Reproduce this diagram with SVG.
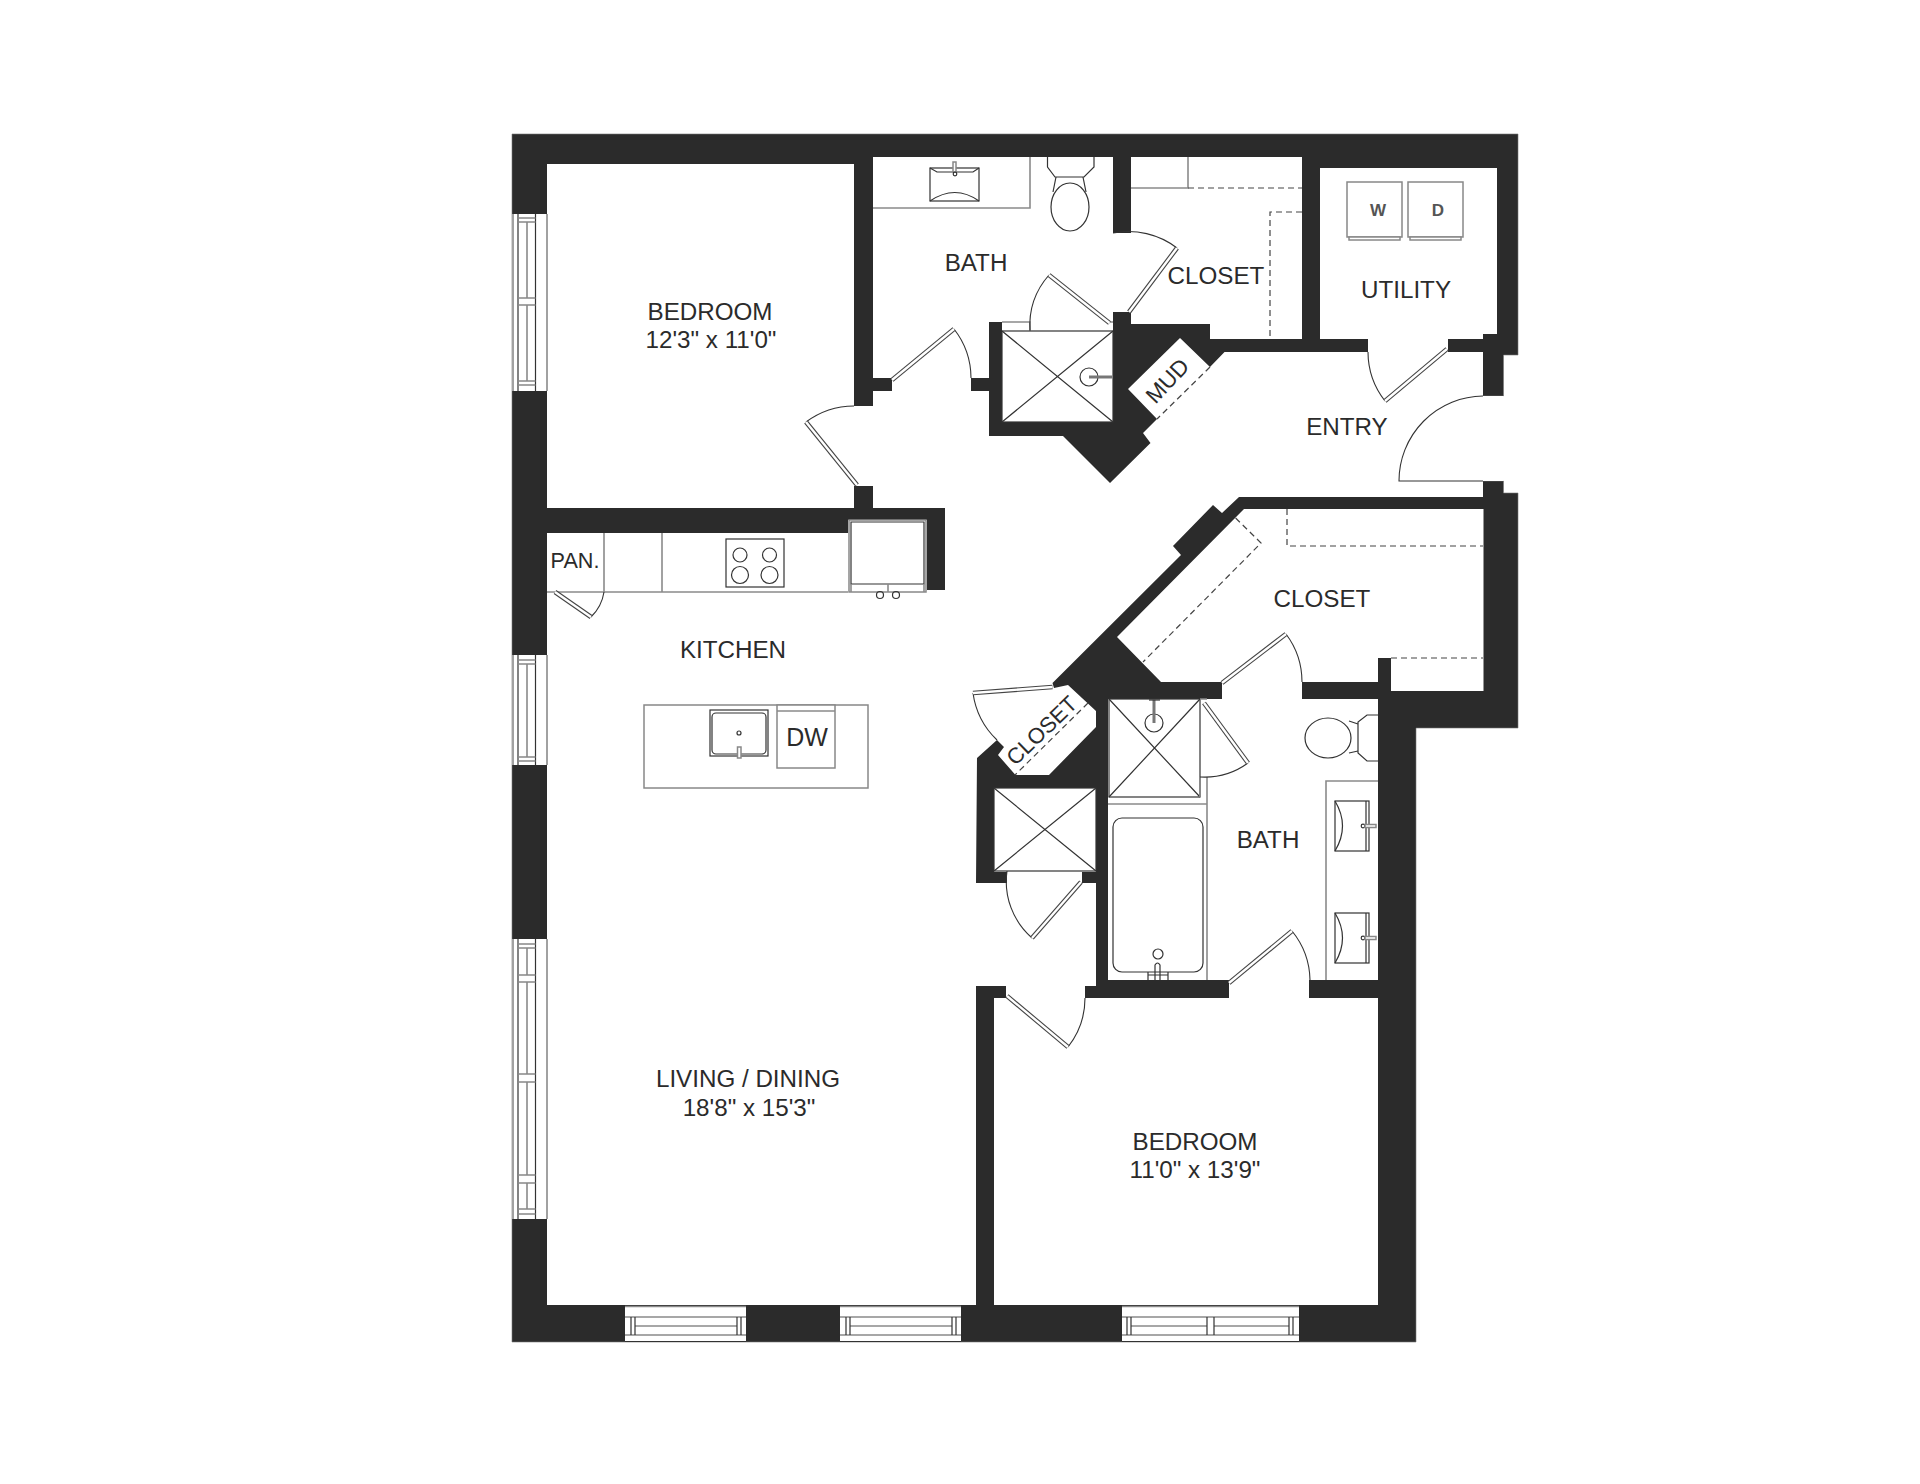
<svg xmlns="http://www.w3.org/2000/svg" width="1920" height="1484" viewBox="0 0 1920 1484">
<style>
.w{fill:#2b2b2b;stroke:#777;stroke-width:.6}
.r{fill:#fff;stroke:none}
.e{fill:none;stroke:#8a8a8a;stroke-width:1.6}
.f{fill:none;stroke:#333;stroke-width:1.2}
.g{fill:none;stroke:#888;stroke-width:1.6}
.fw{fill:#fff;stroke:#333;stroke-width:1.2}
.gw{fill:#fff;stroke:#888;stroke-width:1.5}
.d{fill:none;stroke:#444;stroke-width:1.2;stroke-dasharray:6 4}
.a{fill:none;stroke:#333;stroke-width:1.1}
.l1{fill:none;stroke:#444;stroke-width:4.6}
.l2{fill:none;stroke:#fff;stroke-width:2.4}
text{font-family:"Liberation Sans",Arial,sans-serif;font-size:24.2px;fill:#2b2b2b;text-anchor:middle}
</style>
<rect width="1920" height="1484" fill="#fff"/>
<g id="walls">
<path class="w" d="M512 134H1518V355H1503.5V396H1483V481H1503.5V493H1518V728H1416V1342H512Z"/>
</g>
<g id="rooms">
<path class="r" d="M547 164H854V406H873V391H892V378H971V391H989V436H1063L1110 483L1150.5 443L1143 433L1157 419L1128 389L1180 338L1210 367L1224.5 352H1368V339H1448V352H1483V396H1503.5V481H1483V497H1239L1222 513L1213 505L1173 546L1181 555L1052.5 683L1054 688L1068 685L1096 711V727L1049 775H1015.5L998 755L1004 747L997 740L977 758L976 883H1007V871H1082V883H1096V986H1085V998H1006V986H976V1305H547V533H848V520H927V590H945V508H873V486H854V508H547Z"/>
<path class="r" d="M873 157H1113V331H1002V322H989V378H873Z"/>
<rect class="r" x="1002" y="331" width="111" height="91"/>
<path class="r" d="M1131 157H1302V339H1210V324H1131Z"/>
<rect class="r" x="1113" y="233" width="18" height="79"/>
<path class="r" d="M1320 168H1497V334H1483V339H1320Z"/>
<path class="r" d="M1244 509H1483.5V691H1391V658H1378V682H1161L1117 637Z"/>
<rect class="r" x="1222" y="682" width="80" height="17"/>
<path class="r" d="M1108 699H1378V980H1108Z"/>
<rect class="r" x="1229" y="980" width="80" height="18"/>
<rect class="r" x="994" y="998" width="384" height="307"/>
<rect class="r" x="994" y="788" width="102" height="84"/>
</g>
<g id="windows">
<g id="window-west-1">
<rect class="r" x="512" y="214" width="35" height="177"/>
<path class="e" d="M513 214V391M547 214V391M527 222V298M527 305V381"/>
<path class="f" d="M518 214V391M535.5 214V391"/>
<path class="g" d="M518 218H535.5M518 222H535.5M518 298H535.5M518 305H535.5M518 381H535.5M518 385H535.5"/>
</g>
<g id="window-west-2">
<rect class="r" x="512" y="655" width="35" height="110"/>
<path class="e" d="M513 655V765M547 655V765M527 664V757"/>
<path class="f" d="M518 655V765M535.5 655V765"/>
<path class="g" d="M518 660H535.5M518 664H535.5M518 757H535.5M518 761H535.5"/>
</g>
<g id="window-west-3">
<rect class="r" x="512" y="939" width="35" height="280"/>
<path class="e" d="M513 939V1219M547 939V1219M527 948V975M527 982V1074M527 1082V1175M527 1183V1209"/>
<path class="f" d="M518 939V1219M535.5 939V1219"/>
<path class="g" d="M518 944H535.5M518 948H535.5M518 975H535.5M518 982H535.5M518 1074H535.5M518 1082H535.5M518 1175H535.5M518 1183H535.5M518 1209H535.5M518 1214H535.5"/>
</g>
<g id="window-south-1">
<rect class="r" x="625" y="1306" width="121" height="36"/>
<path class="e" d="M625 1306.500H746M625 1317H746M635 1326H737M625 1335H746"/>
<path class="f" d="M625 1341.500H746M631 1317V1335M635 1317V1335M737 1317V1335M741 1317V1335"/>
</g>
<g id="window-south-2">
<rect class="r" x="840" y="1306" width="121" height="36"/>
<path class="e" d="M840 1306.500H961M840 1317H961M850 1326H952M840 1335H961"/>
<path class="f" d="M840 1341.500H961M846 1317V1335M850 1317V1335M952 1317V1335M956 1317V1335"/>
</g>
<g id="window-south-3">
<rect class="r" x="1122" y="1306" width="177" height="36"/>
<path class="e" d="M1122 1306.500H1299M1122 1317H1299M1131 1326H1207M1214 1326H1289M1122 1335H1299"/>
<path class="f" d="M1122 1341.500H1299M1127 1317V1335M1131 1317V1335M1207 1317V1335M1214 1317V1335M1289 1317V1335M1293 1317V1335"/>
</g>
</g>
<g id="fixtures">
<g id="bath-1">
<path class="e" d="M873 208H1030V157"/>
<rect class="fw" x="930" y="168" width="49" height="33"/>
<path class="f" d="M930 168L937 172H973L979 168M930 201Q955 184 979 201"/>
<rect class="gw" x="953" y="162" width="3" height="10"/>
<circle class="fw" cx="955" cy="174" r="1.800"/>
<path class="fw" d="M1047.500 157V167L1055 177H1084L1094 167V157"/>
<path class="f" d="M1056 177L1053 192M1083 177L1086 192"/>
<ellipse class="fw" cx="1070" cy="207" rx="19" ry="24"/>
<rect class="fw" x="1002" y="331" width="111" height="91"/>
<path class="f" d="M1002 331L1113 422M1113 331L1002 422"/>
<circle class="f" cx="1089" cy="377" r="9"/>
<path d="M1089 377H1112" fill="none" stroke="#777" stroke-width="3"/>
<path class="e" d="M1002 322H1030V331M1109.500 322H1113"/>
</g>
<g id="closet-1">
<path class="e" d="M1131 188H1188V157"/>
<path class="d" d="M1188 188H1302M1302 212H1270V339"/>
</g>
<g id="utility">
<rect class="gw" x="1347" y="182" width="55" height="55"/>
<rect class="gw" x="1408" y="182" width="55" height="55"/>
<rect class="gw" x="1349" y="237" width="51" height="3"/>
<rect class="gw" x="1410" y="237" width="51" height="3"/>
<text x="1378" y="216" style="font-size:17px;font-weight:bold;fill:#555">W</text>
<text x="1438" y="216" style="font-size:17px;font-weight:bold;fill:#555">D</text>
</g>
<g id="mud">
<path class="d" d="M1210 367L1157 419"/>
</g>
<g id="closet-2">
<path class="d" d="M1287 509V546H1483M1235.600 518L1261 543L1143 662M1391 658H1483"/>
</g>
<g id="closet-3">
<path class="d" d="M1088 703L1015 775"/>
</g>
<g id="kitchen">
<rect class="r" x="547" y="533" width="301" height="59"/>
<path class="e" d="M547 592H848M604 533V592M662 533V592"/>
<rect class="f" x="726" y="539" width="58" height="48"/>
<circle class="f" cx="740" cy="555" r="7"/>
<circle class="f" cx="769.500" cy="555" r="7"/>
<circle class="f" cx="740" cy="575" r="8.500"/>
<circle class="f" cx="769.500" cy="575" r="8.500"/>
<rect class="gw" x="849" y="520" width="77" height="72"/>
<path class="f" d="M851 522H924V584H851Z"/>
<path class="e" d="M851 584V592M888 584V592M924 584V592"/>
<circle class="f" cx="880" cy="595" r="3.500"/>
<circle class="f" cx="896" cy="595" r="3.500"/>
<rect class="gw" x="644" y="705" width="224" height="83"/>
<rect class="fw" x="710" y="710" width="58" height="46"/>
<rect class="f" x="712" y="713" width="54" height="41" rx="4"/>
<circle class="f" cx="739" cy="733" r="2"/>
<rect class="gw" x="737.500" y="747" width="3.500" height="11"/>
<rect class="gw" x="777" y="705" width="58" height="63"/>
<path class="e" d="M777 711H835"/>
</g>
<g id="bath-2">
<rect class="fw" x="1109" y="699" width="91" height="98"/>
<path class="f" d="M1109 699L1200 797M1200 699L1109 797"/>
<circle class="f" cx="1154" cy="723" r="9"/>
<path d="M1154 723V699" fill="none" stroke="#777" stroke-width="3"/>
<path class="f" d="M1149 700H1160"/>
<path class="e" d="M1200 699H1207M1207 777V804H1108M1207 804V980M1200 797V777"/>
<rect class="f" x="1113" y="818" width="90" height="154" rx="9"/>
<circle class="f" cx="1158" cy="954" r="5"/>
<path class="f" d="M1155 980V965Q1157.500 961 1160 965V980M1148 975H1168M1148 972V980M1168 972V980"/>
<path class="e" d="M1378 781H1326V980"/>
<rect class="fw" x="1335" y="801" width="34" height="50"/>
<path class="f" d="M1335 801Q1350 826 1335 851M1366 801V851"/>
<circle class="f" cx="1363" cy="826" r="1.800"/>
<rect class="gw" x="1365" y="824.500" width="11" height="3"/>
<rect class="fw" x="1335" y="913" width="34" height="50"/>
<path class="f" d="M1335 913Q1350 938 1335 963M1366 913V963"/>
<circle class="f" cx="1363" cy="938" r="1.800"/>
<rect class="gw" x="1365" y="936.500" width="11" height="3"/>
<path class="fw" d="M1378 715H1367L1358 722V753L1367 761H1378"/>
<path class="f" d="M1349 721L1358 724M1349 753L1358 751"/>
<ellipse class="fw" cx="1328" cy="738" rx="23" ry="20"/>
</g>
<g id="closet-shower">
<rect class="fw" x="994" y="788" width="102" height="83"/>
<path class="f" d="M994 788L1096 871M1096 788L994 871"/>
</g>
</g>
<g id="doors">
<path class="a" d="M806 422A81 81 0 0 1 854 406"/>
<path class="l1" d="M857 485L806 422"/><path class="l2" d="M857 485L806 422"/>
<path class="a" d="M954 329A80 80 0 0 1 971 378"/>
<path class="l1" d="M892 380L954 329"/><path class="l2" d="M892 380L954 329"/>
<path class="a" d="M1113 233A80 80 0 0 1 1177 248"/>
<path class="l1" d="M1129 312L1177 248"/><path class="l2" d="M1129 312L1177 248"/>
<path class="a" d="M1030 331A77 77 0 0 1 1049 275"/>
<path class="l1" d="M1109.500 323L1049 275"/><path class="l2" d="M1109.500 323L1049 275"/>
<path class="a" d="M1385 401A80 80 0 0 1 1368 352"/>
<path class="l1" d="M1447 349L1385 401"/><path class="l2" d="M1447 349L1385 401"/>
<path class="a" d="M1483 396A85 85 0 0 0 1399 481H1483"/>
<path class="a" d="M1286 634A80 80 0 0 1 1302 682"/>
<path class="l1" d="M1222 683L1286 634"/><path class="l2" d="M1222 683L1286 634"/>
<path class="a" d="M1248 763A74 74 0 0 1 1200 777"/>
<path class="l1" d="M1204 703L1248 763"/><path class="l2" d="M1204 703L1248 763"/>
<path class="a" d="M973 693A80 80 0 0 0 997 740"/>
<path class="l1" d="M1052.500 687L973 693"/><path class="l2" d="M1052.500 687L973 693"/>
<path class="a" d="M1032 938A75 75 0 0 1 1007 871"/>
<path class="l1" d="M1081 882L1032 938"/><path class="l2" d="M1081 882L1032 938"/>
<path class="a" d="M1068 1047A79 79 0 0 0 1085 998"/>
<path class="l1" d="M1007 996L1068 1047"/><path class="l2" d="M1007 996L1068 1047"/>
<path class="a" d="M1292 931A80 80 0 0 1 1310 980"/>
<path class="l1" d="M1229 983L1292 931"/><path class="l2" d="M1229 983L1292 931"/>
<path class="a" d="M591 617A44 44 0 0 0 604 592"/>
<path class="l1" d="M555 592L591 617"/><path class="l2" d="M555 592L591 617"/>
</g>
<g id="labels">
<text x="710" y="320">BEDROOM</text>
<text x="711" y="348">12'3" x 11'0"</text>
<text x="976" y="271">BATH</text>
<text x="1216" y="284">CLOSET</text>
<text x="1406" y="298">UTILITY</text>
<text x="1347" y="435">ENTRY</text>
<text x="1322" y="607">CLOSET</text>
<text x="575" y="568" style="font-size:21.6px">PAN.</text>
<text x="733" y="658">KITCHEN</text>
<text x="807" y="746" style="font-size:25px">DW</text>
<text x="1268" y="848">BATH</text>
<text x="748" y="1087">LIVING / DINING</text>
<text x="749" y="1116">18'8" x 15'3"</text>
<text x="1195" y="1150">BEDROOM</text>
<text x="1195" y="1178">11'0" x 13'9"</text>
<text transform="translate(1173 386) rotate(-47)" style="font-size:22.5px">MUD</text>
<text transform="translate(1047 736) rotate(-44)" style="font-size:22px">CLOSET</text>
</g>
</svg>
